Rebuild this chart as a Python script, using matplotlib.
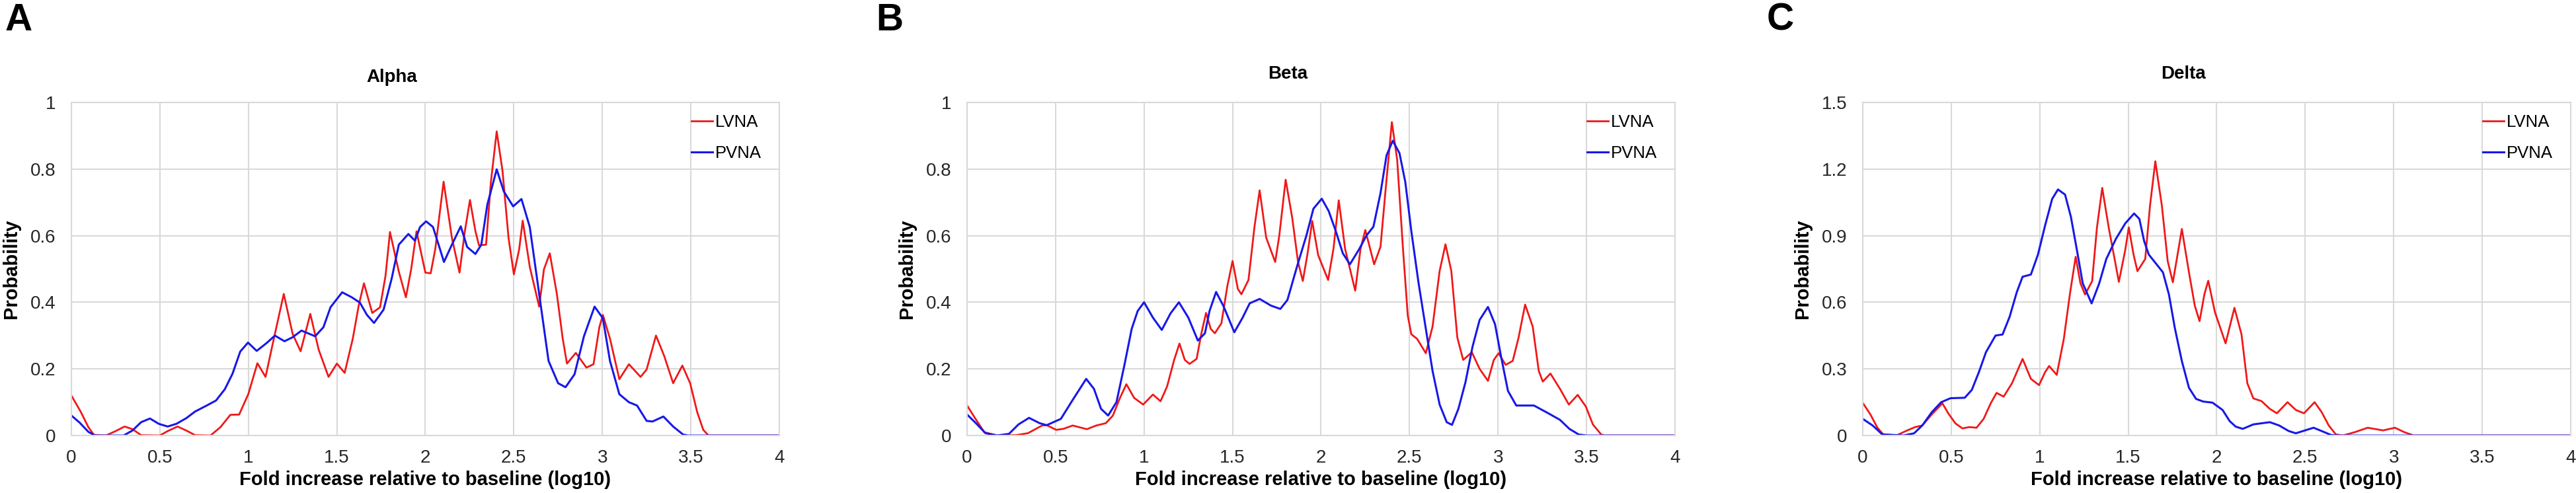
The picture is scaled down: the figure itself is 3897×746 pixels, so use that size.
import matplotlib as mpl
import matplotlib.pyplot as plt
from matplotlib.ticker import FuncFormatter, MultipleLocator

mpl.use('agg')
plt.rcParams['font.family'] = ['Liberation Sans', 'DejaVu Sans']

# --- данные ---
panel_letters = ['A', 'B', 'C']
titles = ['Alpha', 'Beta', 'Delta']
series_names = ['LVNA', 'PVNA']

alpha_lvna_x = [0, 0.052, 0.096, 0.127, 0.195, 0.245, 0.301, 0.345, 0.394, 0.5, 0.543, 0.6, 0.649, 0.699,
                0.786, 0.842, 0.898, 0.948, 1.0, 1.051, 1.097, 1.144, 1.2, 1.25, 1.295, 1.35, 1.397,
                1.453, 1.5, 1.544, 1.59, 1.624, 1.653, 1.70, 1.744, 1.775, 1.80, 1.85, 1.89, 1.92, 1.95,
                1.977, 2.0, 2.03, 2.056, 2.103, 2.15, 2.193, 2.223, 2.252, 2.283, 2.303, 2.343, 2.37,
                2.403, 2.436, 2.47, 2.5, 2.53, 2.55, 2.59, 2.643, 2.67, 2.703, 2.743, 2.776, 2.80, 2.85,
                2.91, 2.95, 2.983, 3.003, 3.043, 3.096, 3.15, 3.216, 3.25, 3.303, 3.35, 3.40, 3.452,
                3.496, 3.536, 3.57, 3.60, 4.0]
alpha_lvna_y = [0.12, 0.072, 0.025, 0.002, 0, 0.012, 0.027, 0.019, 0.001, 0, 0.013, 0.027, 0.015, 0.001,
                0, 0.025, 0.062, 0.063, 0.125, 0.217, 0.176, 0.291, 0.425, 0.305, 0.253, 0.365, 0.258,
                0.176, 0.216, 0.188, 0.291, 0.392, 0.457, 0.368, 0.385, 0.48, 0.611, 0.492, 0.415, 0.5,
                0.613, 0.546, 0.489, 0.487, 0.56, 0.762, 0.593, 0.489, 0.613, 0.707, 0.613, 0.571, 0.573,
                0.76, 0.913, 0.794, 0.593, 0.484, 0.559, 0.645, 0.506, 0.387, 0.499, 0.547, 0.425, 0.291,
                0.216, 0.248, 0.204, 0.214, 0.325, 0.362, 0.291, 0.169, 0.214, 0.176, 0.198, 0.30, 0.238,
                0.157, 0.21, 0.157, 0.07, 0.017, 0, 0]
alpha_pvna_x = [0, 0.046, 0.096, 0.133, 0.295, 0.345, 0.394, 0.444, 0.494, 0.544, 0.593, 0.649, 0.699,
                0.761, 0.817, 0.867, 0.91, 0.954, 0.998, 1.047, 1.104, 1.15, 1.204, 1.25, 1.30, 1.377,
                1.424, 1.464, 1.53, 1.584, 1.63, 1.67, 1.71, 1.764, 1.81, 1.85, 1.904, 1.941, 1.97, 2.004,
                2.043, 2.083, 2.105, 2.15, 2.2, 2.236, 2.283, 2.316, 2.35, 2.403, 2.443, 2.496, 2.543,
                2.59, 2.643, 2.696, 2.75, 2.792, 2.843, 2.896, 2.956, 3.003, 3.043, 3.096, 3.15, 3.196,
                3.25, 3.283, 3.345, 3.40, 3.456, 3.483, 4.0]
alpha_pvna_y = [0.06, 0.039, 0.011, 0, 0, 0.015, 0.04, 0.051, 0.035, 0.027, 0.035, 0.052, 0.072, 0.089,
                0.105, 0.139, 0.185, 0.252, 0.279, 0.254, 0.278, 0.30, 0.283, 0.295, 0.315, 0.298, 0.325,
                0.385, 0.43, 0.415, 0.399, 0.362, 0.338, 0.378, 0.472, 0.573, 0.605, 0.585, 0.626, 0.643,
                0.626, 0.559, 0.521, 0.573, 0.628, 0.566, 0.545, 0.573, 0.693, 0.799, 0.733, 0.688, 0.71,
                0.626, 0.425, 0.224, 0.157, 0.145, 0.184, 0.298, 0.387, 0.352, 0.224, 0.124, 0.10, 0.09,
                0.044, 0.042, 0.057, 0.027, 0.003, 0, 0]

beta_lvna_x = [0, 0.044, 0.097, 0.17, 0.277, 0.344, 0.424, 0.45, 0.504, 0.544, 0.597, 0.677, 0.73,
               0.784, 0.824, 0.864, 0.9, 0.944, 0.995, 1.05, 1.093, 1.13, 1.17, 1.2, 1.23, 1.257, 1.297,
               1.324, 1.35, 1.377, 1.4, 1.437, 1.47, 1.5, 1.53, 1.55, 1.59, 1.624, 1.653, 1.69, 1.741,
               1.764, 1.80, 1.837, 1.87, 1.897, 1.924, 1.95, 1.984, 2.04, 2.07, 2.1, 2.136, 2.193, 2.223,
               2.25, 2.3, 2.336, 2.363, 2.4, 2.43, 2.463, 2.49, 2.51, 2.543, 2.592, 2.63, 2.67, 2.703,
               2.736, 2.77, 2.803, 2.852, 2.896, 2.943, 2.976, 3.003, 3.043, 3.083, 3.116, 3.153, 3.196,
               3.23, 3.253, 3.296, 3.35, 3.40, 3.45, 3.496, 3.536, 3.583, 3.60, 4.0]
beta_lvna_y = [0.09, 0.053, 0.01, 0, 0.001, 0.007, 0.03, 0.031, 0.017, 0.02, 0.03, 0.019, 0.03, 0.037,
               0.06, 0.113, 0.154, 0.113, 0.093, 0.123, 0.103, 0.147, 0.227, 0.276, 0.227, 0.215, 0.23,
               0.307, 0.368, 0.32, 0.307, 0.337, 0.447, 0.524, 0.44, 0.424, 0.467, 0.627, 0.736, 0.594,
               0.521, 0.60, 0.768, 0.654, 0.521, 0.464, 0.547, 0.644, 0.541, 0.467, 0.56, 0.706, 0.56,
               0.435, 0.56, 0.617, 0.514, 0.567, 0.728, 0.941, 0.828, 0.56, 0.36, 0.304, 0.29, 0.247,
               0.327, 0.494, 0.574, 0.494, 0.294, 0.227, 0.25, 0.20, 0.164, 0.227, 0.247, 0.212, 0.224,
               0.294, 0.393, 0.327, 0.194, 0.162, 0.186, 0.14, 0.093, 0.122, 0.087, 0.033, 0.003, 0, 0]
beta_pvna_x = [0, 0.05, 0.104, 0.17, 0.237, 0.29, 0.35, 0.41, 0.45, 0.53, 0.597, 0.673, 0.717, 0.757,
               0.797, 0.844, 0.89, 0.93, 0.964, 1.0, 1.05, 1.1, 1.15, 1.197, 1.25, 1.304, 1.344, 1.37,
               1.407, 1.45, 1.51, 1.557, 1.597, 1.653, 1.717, 1.77, 1.81, 1.864, 1.917, 1.957, 2.004,
               2.043, 2.083, 2.123, 2.163, 2.216, 2.256, 2.296, 2.336, 2.37, 2.405, 2.443, 2.476, 2.51,
               2.55, 2.59, 2.63, 2.67, 2.71, 2.74, 2.776, 2.816, 2.856, 2.896, 2.943, 2.983, 3.016,
               3.056, 3.103, 3.203, 3.283, 3.35, 3.403, 3.456, 3.5, 4.0]
beta_pvna_y = [0.063, 0.037, 0.007, 0, 0.005, 0.033, 0.053, 0.037, 0.031, 0.05, 0.107, 0.17, 0.14,
               0.08, 0.06, 0.1, 0.214, 0.32, 0.374, 0.40, 0.354, 0.317, 0.367, 0.40, 0.354, 0.285,
               0.307, 0.374, 0.431, 0.387, 0.31, 0.354, 0.397, 0.41, 0.39, 0.38, 0.407, 0.507, 0.60,
               0.681, 0.711, 0.674, 0.614, 0.547, 0.514, 0.56, 0.60, 0.627, 0.728, 0.841, 0.885, 0.848,
               0.761, 0.614, 0.461, 0.327, 0.194, 0.093, 0.04, 0.032, 0.08, 0.16, 0.267, 0.347, 0.386,
               0.334, 0.24, 0.134, 0.09, 0.09, 0.067, 0.047, 0.02, 0.003, 0, 0]

delta_lvna_x = [0, 0.043, 0.083, 0.116, 0.19, 0.243, 0.296, 0.336, 0.39, 0.45, 0.483, 0.523, 0.563,
                0.603, 0.643, 0.683, 0.723, 0.756, 0.796, 0.843, 0.903, 0.95, 0.996, 1.03, 1.053, 1.096,
                1.136, 1.17, 1.203, 1.23, 1.256, 1.296, 1.323, 1.353, 1.39, 1.447, 1.483, 1.503, 1.53,
                1.552, 1.596, 1.623, 1.653, 1.69, 1.723, 1.752, 1.783, 1.803, 1.843, 1.876, 1.903, 1.93,
                1.952, 1.99, 2.05, 2.1, 2.14, 2.173, 2.207, 2.253, 2.3, 2.34, 2.4, 2.447, 2.493, 2.553,
                2.593, 2.633, 2.673, 2.713, 2.78, 2.853, 2.94, 3.007, 3.06, 3.113, 4.0]
delta_lvna_y = [0.147, 0.095, 0.035, 0.005, 0, 0.02, 0.038, 0.045, 0.095, 0.145, 0.10, 0.055, 0.032,
                0.038, 0.035, 0.075, 0.145, 0.192, 0.175, 0.235, 0.345, 0.255, 0.227, 0.285, 0.313,
                0.273, 0.435, 0.635, 0.805, 0.685, 0.635, 0.695, 0.935, 1.115, 0.935, 0.692, 0.835,
                0.937, 0.815, 0.74, 0.795, 1.035, 1.235, 1.035, 0.785, 0.69, 0.835, 0.93, 0.735, 0.585,
                0.515, 0.635, 0.697, 0.555, 0.415, 0.575, 0.455, 0.235, 0.167, 0.155, 0.12, 0.10, 0.15,
                0.115, 0.10, 0.15, 0.105, 0.045, 0.005, 0, 0.015, 0.035, 0.023, 0.035, 0.015, 0, 0]
delta_pvna_x = [0, 0.056, 0.11, 0.23, 0.29, 0.336, 0.39, 0.443, 0.496, 0.576, 0.616, 0.656, 0.696,
                0.75, 0.79, 0.83, 0.87, 0.903, 0.95, 0.99, 1.03, 1.07, 1.103, 1.143, 1.176, 1.21, 1.243,
                1.293, 1.336, 1.376, 1.43, 1.483, 1.533, 1.563, 1.59, 1.616, 1.656, 1.696, 1.73, 1.763,
                1.803, 1.843, 1.883, 1.923, 1.976, 2.033, 2.073, 2.107, 2.147, 2.207, 2.3, 2.353, 2.407,
                2.447, 2.547, 2.593, 2.647, 2.687, 4.0]
delta_pvna_y = [0.075, 0.045, 0.005, 0, 0.01, 0.045, 0.105, 0.15, 0.168, 0.17, 0.205, 0.285, 0.375,
                0.45, 0.455, 0.535, 0.645, 0.715, 0.725, 0.815, 0.945, 1.065, 1.108, 1.085, 0.985,
                0.835, 0.685, 0.595, 0.685, 0.795, 0.885, 0.955, 1.0, 0.975, 0.875, 0.815, 0.775, 0.735,
                0.635, 0.485, 0.335, 0.215, 0.165, 0.153, 0.148, 0.115, 0.065, 0.04, 0.03, 0.05, 0.06,
                0.045, 0.02, 0.01, 0.035, 0.02, 0.002, 0, 0]

y_max = [1.0, 1.0, 1.5]
y_step = [0.2, 0.2, 0.3]

panels = [
    ((alpha_lvna_x, alpha_lvna_y), (alpha_pvna_x, alpha_pvna_y)),
    ((beta_lvna_x, beta_lvna_y), (beta_pvna_x, beta_pvna_y)),
    ((delta_lvna_x, delta_lvna_y), (delta_pvna_x, delta_pvna_y)),
]

# --- оформление ---
W, H = 3898, 746
fig = plt.figure(figsize=(W / 100, H / 100), dpi=100)

ax_left_px = [108, 1463, 2818]
ax_w_px = 1071
ax_top_px, ax_bot_px = 155, 659
letter_x_px = [8, 1325, 2673]
title_pads = [22, 26, 26]
colors = ['#f01818', '#1818e8']
widths = [2.0, 2.2]
grid_color = '#d9d9d9'

fmt = FuncFormatter(lambda v, p: f'{v:g}')

for i in range(3):
    ax = fig.add_axes([ax_left_px[i] / W, 1 - ax_bot_px / H, ax_w_px / W, (ax_bot_px - ax_top_px) / H])
    for (xs, ys), c, lw, name in zip(panels[i], colors, widths, series_names):
        ax.plot(xs, ys, color=c, lw=lw, label=name, solid_joinstyle='round')

    ax.set_xlim(0, 4)
    ax.set_ylim(0, y_max[i])
    ax.xaxis.set_major_locator(MultipleLocator(0.5))
    ax.yaxis.set_major_locator(MultipleLocator(y_step[i]))
    ax.xaxis.set_major_formatter(fmt)
    ax.yaxis.set_major_formatter(fmt)
    ax.grid(True, color=grid_color, lw=1.5)
    ax.set_axisbelow(True)
    for s in ax.spines.values():
        s.set_color(grid_color)
        s.set_linewidth(1.5)
    ax.tick_params(length=0, labelsize=20, colors='#262626')
    ax.tick_params(axis='x', pad=15)
    ax.tick_params(axis='y', pad=17)

    # заголовок как в Excel: по центру всей области диаграммы, а не осей
    ax.set_title(titles[i], fontsize=20, fontweight='bold', pad=title_pads[i], x=0.453)
    ax.set_xlabel('Fold increase relative to baseline (log10)', fontsize=21, fontweight='bold')
    ax.xaxis.set_label_coords(0.5, -0.105)
    ax.set_ylabel('Probability', fontsize=21, fontweight='bold')
    ax.yaxis.set_label_coords(-0.072, 0.5)

    ax.legend(loc='upper right', bbox_to_anchor=(0.975, 0.965), frameon=False, fontsize=18.5,
              handlelength=1.25, handletextpad=0.15, labelspacing=0.9, borderpad=0, borderaxespad=0)

    fig.text(letter_x_px[i] / W, 1 - 4 / H, panel_letters[i], fontsize=41, fontweight='bold',
             ha='left', va='top')

plt.savefig('out.png', dpi=100)
plt.close(fig)
